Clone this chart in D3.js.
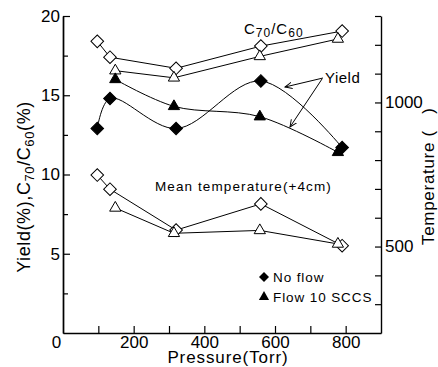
<!DOCTYPE html>
<html>
<head>
<meta charset="utf-8">
<script src="https://cdn.jsdelivr.net/npm/d3@7"></script>
<style>
  html, body { margin: 0; padding: 0; background: #fff; }
  svg { display: block; font-family: "Liberation Sans", Arial, sans-serif; }
</style>
</head>
<body>
<div id="chart"></div>
<script>
// pressure (Torr) of each run
const pressureNoFlow = [97, 133, 320, 560, 790];
const pressureFlow = [148, 314, 557, 778];
// yield (%) - left axis
const yieldNoFlow = [12.9, 14.8, 12.9, 15.9, 11.7];
const yieldFlow = [16.0, 14.3, 13.65, 11.4];
// C70/C60 (%) - left axis
const ratioNoFlow = [18.4, 17.4, 16.7, 18.1, 19.05];
const ratioFlow = [16.55, 16.1, 17.45, 18.55];
// mean temperature (+4cm) - right axis
const tempNoFlow = [748, 699, 557, 648, 503];
const tempFlow = [634, 546, 556, 509];

const xTickLabels = [0, 200, 400, 600, 800];
const xTickMarks = [100, 200, 300, 400, 500, 600, 700, 800];
const yLeftLabels = [5, 10, 15, 20];
const yLeftMinor = [2.5, 7.5, 12.5, 17.5];
const yRightLabels = [500, 1000];
const yRightMarks = [300, 400, 500, 600, 700, 800, 900, 1000, 1100, 1200, 1300];

const W = 438, H = 367;
const margin = {top: 16, right: 57, bottom: 34, left: 63};

const svg = d3.select('#chart').append('svg')
  .attr('width', W)
  .attr('height', H);

const x = d3.scaleLinear().domain([0, 900]).range([margin.left, W - margin.right]);
const yL = d3.scaleLinear().domain([0, 20]).range([H - margin.bottom, margin.top]);
const yR = d3.scaleLinear().domain([200, 1300]).range([H - margin.bottom, margin.top]);

// arrow head
svg.append('defs').append('marker')
  .attr('id', 'arrow')
  .attr('viewBox', '0 -5 10 10')
  .attr('refX', 9).attr('refY', 0)
  .attr('markerWidth', 8).attr('markerHeight', 8)
  .attr('markerUnits', 'userSpaceOnUse')
  .attr('orient', 'auto')
  .append('path')
  .attr('d', 'M0,-4L9,0L0,4')
  .attr('fill', 'none')
  .attr('stroke', '#000')
  .attr('stroke-width', 1.2);

function styleAxis(g) {
  g.select('.domain').attr('stroke', '#000').attr('stroke-width', 1.4);
  g.selectAll('.tick line').attr('stroke', '#000').attr('stroke-width', 1.2);
  g.selectAll('text').attr('font-size', 17).attr('fill', '#000')
    .attr('font-family', '"Liberation Sans", Arial, sans-serif');
}

const fmt = d3.format('d');

// x axis
svg.append('g')
  .attr('transform', `translate(0,${H - margin.bottom})`)
  .call(d3.axisBottom(x).tickValues(xTickMarks).tickSize(-7).tickSizeOuter(0).tickFormat(''))
  .call(styleAxis);
svg.append('g')
  .attr('transform', `translate(0,${H - margin.bottom})`)
  .call(d3.axisBottom(x).tickValues(xTickLabels).tickSize(0).tickPadding(3).tickFormat(fmt))
  .call(g => g.select('.domain').remove())
  .call(styleAxis)
  .selectAll('.tick text')
  .attr('dx', d => d === 0 ? -7 : 0);

// left axis
svg.append('g')
  .attr('transform', `translate(${margin.left},0)`)
  .call(d3.axisLeft(yL).tickValues(yLeftMinor).tickSize(-5).tickSizeOuter(0).tickFormat(''))
  .call(styleAxis);
svg.append('g')
  .attr('transform', `translate(${margin.left},0)`)
  .call(d3.axisLeft(yL).tickValues(yLeftLabels).tickSize(-7).tickSizeOuter(0).tickPadding(3).tickFormat(fmt))
  .call(styleAxis);

// right axis
svg.append('g')
  .attr('transform', `translate(${W - margin.right},0)`)
  .call(d3.axisRight(yR).tickValues(yRightMarks).tickSize(-6).tickSizeOuter(0).tickFormat(''))
  .call(styleAxis);
svg.append('g')
  .attr('transform', `translate(${W - margin.right},0)`)
  .call(d3.axisRight(yR).tickValues(yRightLabels).tickSize(0).tickPadding(4).tickFormat(fmt))
  .call(g => g.select('.domain').remove())
  .call(styleAxis);

// axis titles
svg.append('text')
  .attr('x', 228).attr('y', 363)
  .attr('text-anchor', 'middle')
  .attr('font-size', 17)
  .attr('letter-spacing', 0.9)
  .text('Pressure(Torr)');

const yTitle = svg.append('text')
  .attr('transform', 'translate(30,187) rotate(-90)')
  .attr('text-anchor', 'middle')
  .attr('font-size', 18)
  .attr('letter-spacing', 0.6);
yTitle.append('tspan').text('Yield(%),C');
yTitle.append('tspan').attr('font-size', 13).attr('dy', 4).text('70');
yTitle.append('tspan').attr('dy', -4).text('/C');
yTitle.append('tspan').attr('font-size', 13).attr('dy', 4).text('60');
yTitle.append('tspan').attr('dy', -4).text('(%)');

svg.append('text')
  .attr('transform', 'translate(434,245) rotate(-90)')
  .attr('font-size', 17)
  .attr('letter-spacing', 0.7)
  .text('Temperature (\u00A0\u00A0\u00A0)');

// series
const pts = (xs, ys) => xs.map((p, i) => [p, ys[i]]);

const straight = (ys) => d3.line().x(d => x(d[0])).y(d => ys(d[1]));
const smooth = d3.line().x(d => x(d[0])).y(d => yL(d[1])).curve(d3.curveCatmullRom.alpha(0.5));

const lines = [
  {data: pts(pressureNoFlow, ratioNoFlow), gen: straight(yL)},
  {data: pts(pressureFlow, ratioFlow), gen: straight(yL)},
  {data: pts(pressureNoFlow, tempNoFlow), gen: straight(yR)},
  {data: pts(pressureFlow, tempFlow), gen: straight(yR)},
  {data: pts(pressureNoFlow, yieldNoFlow), gen: smooth},
  {data: pts(pressureFlow, yieldFlow), gen: smooth}
];
svg.append('g').selectAll('path')
  .data(lines)
  .enter().append('path')
  .attr('d', d => d.gen(d.data))
  .attr('fill', 'none')
  .attr('stroke', '#000')
  .attr('stroke-width', 1);

const diamond = d3.symbol(d3.symbolSquare, 80)();
const triangle = d3.symbol(d3.symbolTriangle, 55)();

function drawMarkers(data, ys, shape, fill) {
  svg.append('g').selectAll('path')
    .data(data)
    .enter().append('path')
    .attr('d', shape)
    .attr('transform', d => `translate(${x(d[0])},${ys(d[1])})` + (shape === diamond ? ' rotate(45)' : ''))
    .attr('fill', fill)
    .attr('stroke', '#000')
    .attr('stroke-width', 1);
}

drawMarkers(pts(pressureNoFlow, ratioNoFlow), yL, diamond, '#fff');
drawMarkers(pts(pressureFlow, ratioFlow), yL, triangle, '#fff');
drawMarkers(pts(pressureNoFlow, tempNoFlow), yR, diamond, '#fff');
drawMarkers(pts(pressureFlow, tempFlow), yR, triangle, '#fff');
drawMarkers(pts(pressureNoFlow, yieldNoFlow), yL, diamond, '#000');
drawMarkers(pts(pressureFlow, yieldFlow), yL, triangle, '#000');

// annotations
const ratioLabel = svg.append('text')
  .attr('x', 244).attr('y', 34)
  .attr('font-size', 15)
  .attr('letter-spacing', 1);
ratioLabel.append('tspan').text('C');
ratioLabel.append('tspan').attr('font-size', 12).attr('dy', 3).text('70');
ratioLabel.append('tspan').attr('dy', -3).text('/C');
ratioLabel.append('tspan').attr('font-size', 12).attr('dy', 3).text('60');

svg.append('text')
  .attr('x', 325).attr('y', 83)
  .attr('font-size', 15)
  .attr('letter-spacing', 0.5)
  .text('Yield');

const arrows = [[323, 78, 285, 87], [322, 79, 290, 127]];
svg.append('g').selectAll('line')
  .data(arrows)
  .enter().append('line')
  .attr('x1', d => d[0]).attr('y1', d => d[1])
  .attr('x2', d => d[2]).attr('y2', d => d[3])
  .attr('stroke', '#000')
  .attr('stroke-width', 1)
  .attr('marker-end', 'url(#arrow)');

svg.append('text')
  .attr('x', 155).attr('y', 191)
  .attr('font-size', 13.5)
  .attr('letter-spacing', 1.1)
  .text('Mean temperature(+4cm)');

// legend
const legend = [
  {label: 'No flow', shape: d3.symbol(d3.symbolSquare, 50)(), rot: ' rotate(45)', y: 277},
  {label: 'Flow 10 SCCS', shape: d3.symbol(d3.symbolTriangle, 45)(), rot: '', y: 297}
];
const lg = svg.append('g').selectAll('g')
  .data(legend)
  .enter().append('g')
  .attr('transform', d => `translate(264,${d.y})`);
lg.append('path')
  .attr('d', d => d.shape)
  .attr('transform', d => 'translate(0,0)' + d.rot)
  .attr('fill', '#000');
lg.append('text')
  .attr('x', 9).attr('y', 5)
  .attr('font-size', 13.5)
  .attr('letter-spacing', 0.9)
  .text(d => d.label);
</script>
</body>
</html>
